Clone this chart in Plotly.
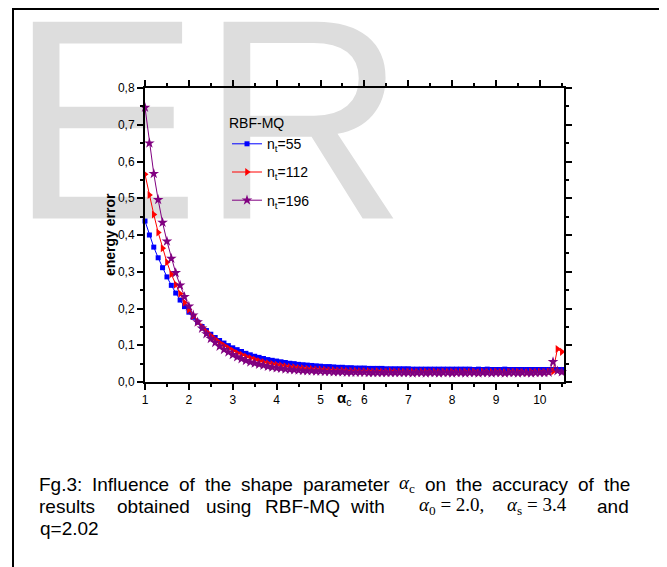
import plotly.graph_objects as go

# ---------------- data ----------------
alpha_c = [1.0, 1.1, 1.2, 1.3, 1.4, 1.5, 1.6, 1.7, 1.8, 1.9,
           2.0, 2.1, 2.2, 2.3, 2.4, 2.5, 2.6, 2.7, 2.8, 2.9,
           3.0, 3.1, 3.2, 3.3, 3.4, 3.5, 3.6, 3.7, 3.8, 3.9,
           4.0, 4.1, 4.2, 4.3, 4.4, 4.5, 4.6, 4.7, 4.8, 4.9,
           5.0, 5.1, 5.2, 5.3, 5.4, 5.5, 5.6, 5.7, 5.8, 5.9,
           6.0, 6.1, 6.2, 6.3, 6.4, 6.5, 6.6, 6.7, 6.8, 6.9,
           7.0, 7.1, 7.2, 7.3, 7.4, 7.5, 7.6, 7.7, 7.8, 7.9,
           8.0, 8.1, 8.2, 8.3, 8.4, 8.5, 8.6, 8.7, 8.8, 8.9,
           9.0, 9.1, 9.2, 9.3, 9.4, 9.5, 9.6, 9.7, 9.8, 9.9,
           10.0, 10.1, 10.2, 10.3, 10.4, 10.5]

err_nt55 = [0.438, 0.400, 0.367, 0.338, 0.311, 0.286, 0.263, 0.242, 0.223, 0.205,
            0.190, 0.176, 0.163, 0.151, 0.140, 0.130, 0.121, 0.113, 0.106, 0.099,
            0.093, 0.088, 0.083, 0.078, 0.074, 0.070, 0.067, 0.064, 0.061, 0.059,
            0.057, 0.055, 0.053, 0.051, 0.050, 0.048, 0.047, 0.046, 0.045, 0.044,
            0.043, 0.042, 0.042, 0.041, 0.040, 0.040, 0.039, 0.039, 0.038, 0.038,
            0.038, 0.037, 0.037, 0.037, 0.037, 0.036, 0.036, 0.036, 0.036, 0.036,
            0.036, 0.035, 0.035, 0.035, 0.035, 0.035, 0.035, 0.035, 0.035, 0.035,
            0.035, 0.035, 0.035, 0.035, 0.035, 0.034, 0.035, 0.034, 0.035, 0.034,
            0.034, 0.034, 0.035, 0.034, 0.034, 0.034, 0.034, 0.034, 0.034, 0.034,
            0.034, 0.034, 0.034, 0.034, 0.034, 0.034]

err_nt112 = [0.565, 0.509, 0.456, 0.407, 0.364, 0.326, 0.293, 0.265, 0.240, 0.216,
             0.197, 0.180, 0.164, 0.150, 0.137, 0.126, 0.116, 0.107, 0.099, 0.092,
             0.085, 0.079, 0.074, 0.069, 0.065, 0.061, 0.057, 0.054, 0.051, 0.049,
             0.047, 0.045, 0.043, 0.041, 0.040, 0.038, 0.037, 0.036, 0.035, 0.034,
             0.034, 0.033, 0.032, 0.032, 0.031, 0.031, 0.030, 0.030, 0.030, 0.029,
             0.029, 0.029, 0.028, 0.029, 0.028, 0.028, 0.029, 0.028, 0.028, 0.027,
             0.028, 0.028, 0.027, 0.028, 0.028, 0.027, 0.028, 0.027, 0.028, 0.027,
             0.028, 0.027, 0.027, 0.028, 0.027, 0.028, 0.026, 0.028, 0.027, 0.027,
             0.028, 0.027, 0.026, 0.028, 0.027, 0.028, 0.027, 0.026, 0.028, 0.027,
             0.028, 0.027, 0.028, 0.029, 0.090, 0.082]

err_nt196 = [0.747, 0.650, 0.567, 0.496, 0.434, 0.383, 0.336, 0.297, 0.263, 0.232,
             0.206, 0.182, 0.163, 0.146, 0.131, 0.118, 0.107, 0.097, 0.088, 0.081,
             0.074, 0.068, 0.063, 0.058, 0.054, 0.051, 0.048, 0.045, 0.042, 0.040,
             0.038, 0.037, 0.035, 0.034, 0.033, 0.032, 0.031, 0.030, 0.030, 0.029,
             0.029, 0.028, 0.028, 0.027, 0.027, 0.027, 0.026, 0.026, 0.026, 0.026,
             0.026, 0.025, 0.025, 0.025, 0.025, 0.025, 0.025, 0.025, 0.025, 0.025,
             0.025, 0.024, 0.025, 0.025, 0.024, 0.025, 0.025, 0.024, 0.025, 0.025,
             0.024, 0.025, 0.025, 0.024, 0.025, 0.025, 0.024, 0.025, 0.025, 0.024,
             0.025, 0.025, 0.024, 0.025, 0.025, 0.024, 0.025, 0.025, 0.024, 0.025,
             0.025, 0.025, 0.026, 0.055, 0.030, 0.027]

series_names = ["n<sub>t</sub>=55", "n<sub>t</sub>=112", "n<sub>t</sub>=196"]
x_tick_vals = [1, 2, 3, 4, 5, 6, 7, 8, 9, 10]
x_tick_text = ["1", "2", "3", "4", "5", "6", "7", "8", "9", "10"]
y_tick_vals = [0.0, 0.1, 0.2, 0.3, 0.4, 0.5, 0.6, 0.7, 0.8]
y_tick_text = ["0,0", "0,1", "0,2", "0,3", "0,4", "0,5", "0,6", "0,7", "0,8"]

caption_line1 = ["Fg.3:", "Influence", "of", "the", "shape", "parameter", "<i>α</i><sub>c</sub>",
                 "on", "the", "accuracy", "of", "the"]
caption_line2 = ["results", "obtained", "using", "RBF-MQ", "with",
                 "<i>α</i><sub>0</sub> = 2.0,", "<i>α</i><sub>s</sub> = 3.4", "and"]
caption_line3 = "q=2.02"

# ---------------- geometry (page pixels; body has an 8px margin) ----------------
PAGE_W, PAGE_H, OFF = 667, 567, 8
FW, FH = PAGE_W - OFF, PAGE_H - OFF
L, R, T, B = 145, 564, 88, 382   # plot box in page pixels


def px(xp):
    return (xp - L) / (R - L)


def py(yp):
    return (B - yp) / (B - T)


FONT = "Liberation Sans, Arial, sans-serif"
SERIF = "Liberation Serif, DejaVu Serif, serif"

# Arial advance widths (per 1000 em) used to justify caption line 1
ARIAL = {' ': 278, 'a': 556, 'b': 556, 'c': 500, 'd': 556, 'e': 556, 'f': 278, 'g': 556, 'h': 556,
         'i': 222, 'j': 222, 'k': 500, 'l': 222, 'm': 833, 'n': 556, 'o': 556, 'p': 556, 'q': 556,
         'r': 333, 's': 500, 't': 278, 'u': 556, 'v': 500, 'w': 722, 'x': 500, 'y': 500, 'z': 500,
         'F': 611, 'I': 278, 'R': 722, 'B': 667, 'M': 833, 'Q': 778, '-': 333, '.': 278, ':': 278,
         ',': 278, '=': 584, '0': 556, '1': 556, '2': 556, '3': 556, '4': 556, '5': 556}


def text_w(s, size):
    if "α" in s:
        return {"c": 0.85, "0": 3.5, "s": 3.15}[s.split("<sub>")[1][0]] * size
    return sum(ARIAL.get(ch, 556) for ch in s) * size / 1000.0


CAP_SIZE = 19
CAP_X0, CAP_X1 = 38, 629
line2_left = [38, 116, 205, 264, 349, 418, 506, 596]

fig = go.Figure()
styles = [
    dict(color="#0000ff", symbol="square", size=5),
    dict(color="#ff0000", symbol="triangle-right", size=7),
    dict(color="#800080", symbol="star", size=8),
]
for i, (name, ys, st) in enumerate(zip(series_names, [err_nt55, err_nt112, err_nt196], styles)):
    fig.add_trace(go.Scatter(
        x=alpha_c, y=ys, name=name, mode="lines+markers",
        legendgroup=f"g{i}",
        line=dict(color=st["color"], width=1),
        marker=dict(color=st["color"], symbol=st["symbol"], size=st["size"], line=dict(width=0)),
        cliponaxis=False,
    ))

axis_common = dict(
    showgrid=False, zeroline=False, showline=True, linecolor="black", linewidth=2,
    ticks="outside", tickcolor="black", tickwidth=2, mirror="allticks",
    tickfont=dict(family=FONT, size=12, color="black"),
)
fig.update_xaxes(range=[1, 10.55], tickmode="array", tickvals=x_tick_vals, ticktext=x_tick_text,
                 ticklen=6, minor=dict(dtick=0.5, tick0=1, ticks="outside", ticklen=3, tickwidth=2,
                                       tickcolor="black"),
                 **axis_common)
fig.update_yaxes(range=[0, 0.8], tickmode="array", tickvals=y_tick_vals, ticktext=y_tick_text,
                 ticklen=6, minor=dict(dtick=0.05, tick0=0, ticks="outside", ticklen=3, tickwidth=2,
                                       tickcolor="black"),
                 **axis_common)

shapes = [
    # watermark behind the chart
    dict(type="rect", xref="paper", yref="paper", x0=px(11), x1=px(405), y0=py(194), y1=py(-9),
         line=dict(width=0), fillcolor="rgba(0,0,0,0)", layer="below",
         label=dict(text="ER", font=dict(family=FONT, size=286, color="#dddddd"),
                    textposition="middle center")),
    # outer frame (top and left)
    dict(type="line", xref="paper", yref="paper", x0=px(12), x1=px(667), y0=py(9), y1=py(9),
         line=dict(color="black", width=2)),
    dict(type="line", xref="paper", yref="paper", x0=px(13), x1=px(13), y0=py(9), y1=py(567),
         line=dict(color="black", width=2)),
]

annotations = [
    dict(text="<b>energy error</b>", textangle=-90, x=px(110), y=py(235), xref="paper", yref="paper",
         xanchor="center", yanchor="middle",
         showarrow=False, font=dict(family=FONT, size=14, color="black")),
    dict(text="<b>α</b><sub>c</sub>", x=px(344), y=py(398), xref="paper", yref="paper",
         xanchor="center", yanchor="middle",
         showarrow=False, font=dict(family=FONT, size=15, color="black")),
    dict(text=caption_line3, x=px(CAP_X0), y=py(528), xref="paper", yref="paper", xanchor="left",
         yanchor="middle", showarrow=False, font=dict(family=FONT, size=CAP_SIZE, color="black")),
]


def add_word(w, x, yline):
    fam = SERIF if "α" in w else FONT
    annotations.append(dict(text=w, x=px(x), y=py(yline), xref="paper", yref="paper",
                            xanchor="left", yanchor="middle", showarrow=False, borderpad=0,
                            font=dict(family=fam, size=CAP_SIZE, color="black")))


# line 1: justified between CAP_X0 and CAP_X1
widths = [text_w(w, CAP_SIZE) for w in caption_line1]
gap = (CAP_X1 - CAP_X0 - sum(widths)) / (len(caption_line1) - 1)
xpos = CAP_X0
for w, wd in zip(caption_line1, widths):
    add_word(w, xpos, 484)
    xpos += wd + gap

# line 2: word positions
for w, x in zip(caption_line2, line2_left):
    add_word(w, x, 506)

fig.update_layout(
    width=FW, height=FH,
    margin=dict(l=L - OFF, r=FW - (R - OFF), t=T - OFF, b=FH - (B - OFF), pad=0),
    paper_bgcolor="white", plot_bgcolor="rgba(0,0,0,0)",
    font=dict(family=FONT, color="black"),
    showlegend=True,
    legend=dict(title=dict(text="RBF-MQ", font=dict(family=FONT, size=14)),
                x=px(227), y=py(110), xanchor="left", yanchor="top",
                bgcolor="rgba(0,0,0,0)", font=dict(family=FONT, size=14),
                tracegroupgap=7, itemwidth=30),
    shapes=shapes, annotations=annotations,
)

fig.write_html("out.html")
